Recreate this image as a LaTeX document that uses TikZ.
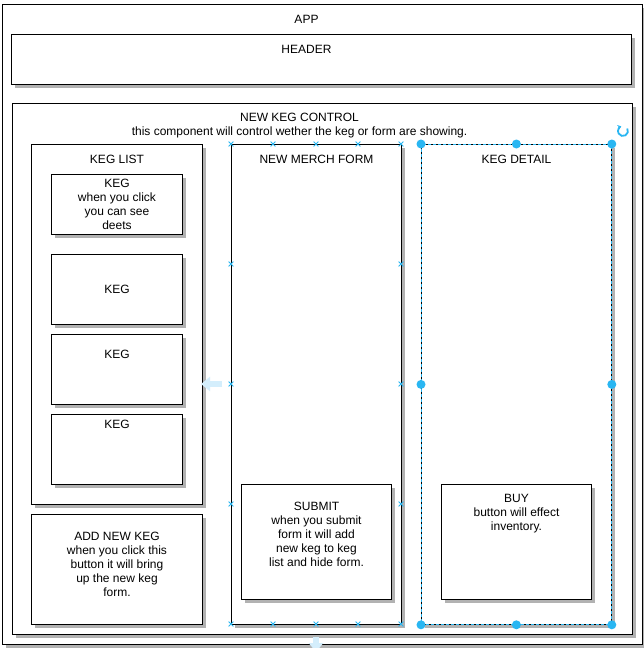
\documentclass[tikz,border=0pt]{standalone}
\usepackage{fontspec}
\setmainfont{Liberation Sans}
\usepackage{xcolor}
\usepackage{tikz}
\usetikzlibrary{positioning, shadows, shapes.misc, arrows.meta}
\definecolor{selblue}{RGB}{41,182,242}
\definecolor{hintblue}{RGB}{212,238,252}

\begin{document}
\begin{tikzpicture}[
  x=1pt, y=-1pt,
  every node/.style={font=\fontsize{12}{14}\selectfont, inner sep=0pt, align=center},
  box/.style={draw, line width=1pt, fill=white, anchor=north west,
    general shadow={fill=black!30, shadow xshift=3pt, shadow yshift=-3pt}},
  selbox/.style={draw=selblue, dashed, dash pattern=on 3pt off 2pt, line width=0.8pt, anchor=north west},
  handle/.style={circle, fill=selblue, minimum size=9pt},
  xmark/.style={cross out, draw=selblue, line width=0.8pt, minimum size=4pt},
  hint/.style={hintblue, line width=6pt, -{Triangle[length=9pt, width=14pt]}}
]
\useasboundingbox (0,0) rectangle (643,648);

% App and header
\node[box, minimum width=640pt, minimum height=640pt] (app) at (2,4) {};
\node at ([xshift=-16pt, yshift=-15pt]app.north) (apptitle) {APP};
\node[box, minimum width=620pt, minimum height=50pt] (header) at (11,34) {};
\node at ([xshift=-15pt, yshift=-15pt]header.north) (headertitle) {HEADER};

% New keg control
\node[box, minimum width=620pt, minimum height=531pt] (control) at (12,103) {};
\node at ([xshift=-23pt, yshift=-23pt]control.north) (controltitle) {NEW KEG CONTROL\\this component will control wether the keg or form are showing.};

% Keg list
\node[box, minimum width=171pt, minimum height=360pt] (keglist) at (31,144) {};
\node at ([yshift=-15pt]keglist.north) (keglisttitle) {KEG LIST};
\node[box, minimum width=131pt, minimum height=60pt] (kegone) at (51,174) {KEG\\when you click\\you can see\\deets};
\node[box, minimum width=131pt, minimum height=70pt] (kegtwo) at (51,254) {KEG};
\node[box, minimum width=131pt, minimum height=70pt] (kegthree) at (51,334) {};
\node at ([yshift=-20pt]kegthree.north) (kegthreetitle) {KEG};
\node[box, minimum width=131pt, minimum height=70pt] (kegfour) at (51,414) {};
\node at ([yshift=-10pt]kegfour.north) (kegfourtitle) {KEG};
\node[box, minimum width=171pt, minimum height=110pt] (addkeg) at (31,514) {};
\node at ([yshift=-50pt]addkeg.north) (addkegtext) {ADD NEW KEG\\when you click this\\button it will bring\\up the new keg\\form.};

% New merch form
\node[box, minimum width=170pt, minimum height=480pt] (form) at (231,144) {};
\node at ([yshift=-15pt]form.north) (formtitle) {NEW MERCH FORM};
\node[box, minimum width=150pt, minimum height=115pt] (submit) at (241,484) {};
\node at ([yshift=-50pt]submit.north) (submittext) {SUBMIT\\when you submit\\form it will add\\new keg to keg\\list and hide form.};

% Keg detail (selected)
\node[box, minimum width=190pt, minimum height=480pt] (detail) at (421,144) {};
\node[selbox, minimum width=190pt, minimum height=480pt] (detailsel) at (421,144) {};
\node at ([yshift=-15pt]detail.north) (detailtitle) {KEG DETAIL};
\node[box, minimum width=150pt, minimum height=115pt] (buy) at (441,484) {};
\node at ([yshift=-30pt]buy.north) (buytext) {BUY\\button will effect\\inventory.};

% Selection handles
\foreach \a [count=\i] in {north west, north, north east, west, east, south west, south, south east}
  \node[handle] (h\i) at (detailsel.\a) {};

% Connection points on the form
\foreach \px [count=\i] in {231,273,316,358,401} {
  \node[xmark] (xt\i) at (\px,144) {};
  \node[xmark] (xb\i) at (\px,624) {};
}
\foreach \py [count=\i] in {264,384,504} {
  \node[xmark] (xl\i) at (231,\py) {};
  \node[xmark] (xr\i) at (401,\py) {};
}

% Hover hints
\coordinate (hintleft) at (222,384);
\coordinate (hintleftend) at (201,384);
\coordinate (hintdown) at (316,637);
\coordinate (hintdownend) at (316,652);
\draw[hint] (hintleft) -- (hintleftend);
\draw[hint] (hintdown) -- (hintdownend);

% Rotate handle
\coordinate (rot) at (623,131);
\draw[selblue, line width=1.8pt, -{Stealth[length=3.5pt, width=5pt]}] ([xshift=4.3pt, yshift=2.5pt]rot) arc (30:-250:5pt);

\end{tikzpicture}
\end{document}
